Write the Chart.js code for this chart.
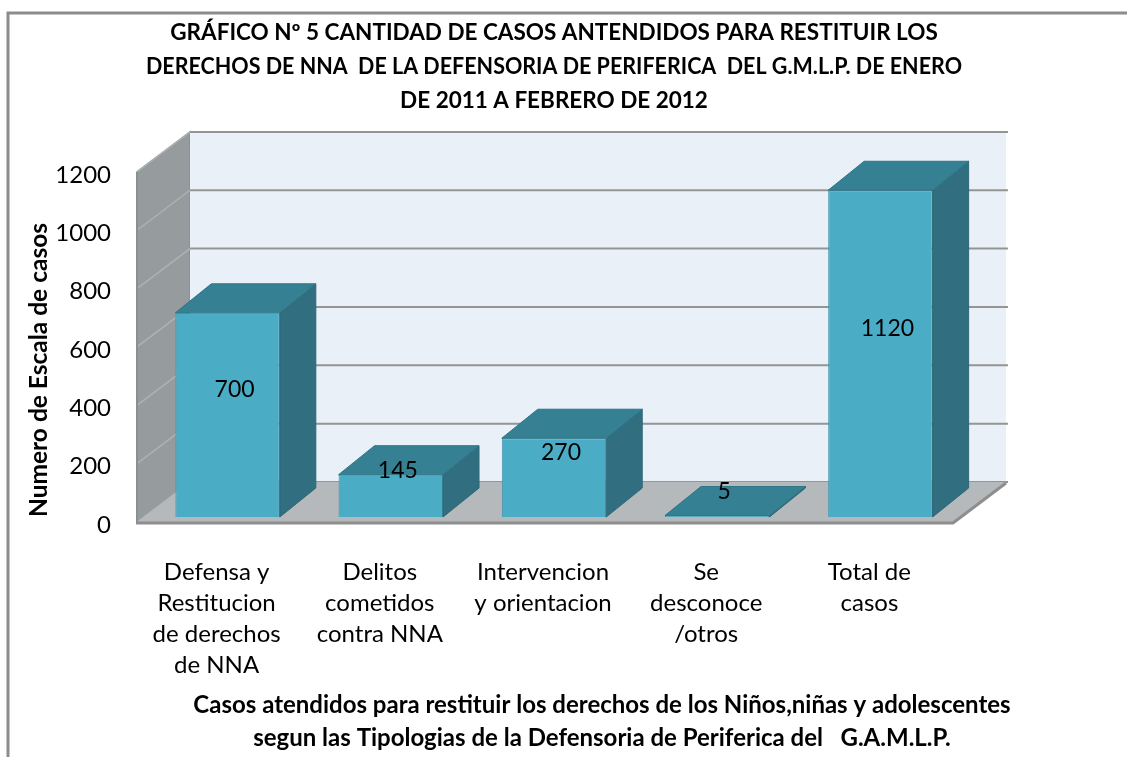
<!DOCTYPE html>
<html>
<head>
<meta charset="utf-8">
<title>Casos atendidos</title>
<script src="https://cdn.jsdelivr.net/npm/chart.js@4.4.1/dist/chart.umd.min.js"></script>
<style>
  body { margin: 0; background: #fff; }
  canvas { display: block; }
</style>
</head>
<body>
<canvas id="grafico" width="1127" height="757"></canvas>
<script>
// datos
const categorias = [
  ['Defensa y', 'Restitucion', 'de derechos', 'de NNA'],
  ['Delitos', 'cometidos', 'contra NNA'],
  ['Intervencion', 'y orientacion'],
  ['Se', 'desconoce', '/otros'],
  ['Total de', 'casos']
];
const casos = [700, 145, 270, 5, 1120];
const ejeY = { min: 0, max: 1200, paso: 200 };

const titulo = [
  'GRÁFICO Nº 5 CANTIDAD DE CASOS ANTENDIDOS PARA RESTITUIR LOS',
  'DERECHOS DE NNA  DE LA DEFENSORIA DE PERIFERICA  DEL G.M.L.P. DE ENERO',
  'DE 2011 A FEBRERO DE 2012'
];
const tituloX = [
  'Casos atendidos para restituir los derechos de los Niños,niñas y adolescentes',
  'segun las Tipologias de la Defensoria de Periferica del   G.A.M.L.P.'
];
const tituloY = 'Numero de Escala de casos';

const FUENTE = 'Lato, "Open Sans", sans-serif';

// profundidad del piso/paredes y de las barras
const frente = { x: -9, y: 5 };
const fondo = { x: 53, y: -40 };
const prof = { x: 36, y: -29 };

function poly(ctx, pts, fill, stroke, lw) {
  ctx.beginPath();
  ctx.moveTo(pts[0][0], pts[0][1]);
  for (let i = 1; i < pts.length; i++) ctx.lineTo(pts[i][0], pts[i][1]);
  ctx.closePath();
  if (fill) { ctx.fillStyle = fill; ctx.fill(); }
  if (stroke) { ctx.strokeStyle = stroke; ctx.lineWidth = lw || 1; ctx.stroke(); }
}

const marco = {
  id: 'marco',
  beforeDraw(chart) {
    const ctx = chart.ctx;
    ctx.save();
    ctx.fillStyle = '#fff';
    ctx.fillRect(0, 0, chart.width, chart.height);
    ctx.strokeStyle = '#8c8c8c';
    ctx.lineWidth = 3;
    ctx.beginPath();
    ctx.moveTo(chart.width, 13);
    ctx.lineTo(8, 13);
    ctx.lineTo(8, chart.height);
    ctx.stroke();
    ctx.restore();
  }
};

const caja3d = {
  id: 'caja3d',
  beforeDatasetsDraw(chart) {
    const { ctx, chartArea: a, scales: { y } } = chart;
    const L = a.left + frente.x, R = a.right + frente.x;
    const B = y.getPixelForValue(ejeY.min) + frente.y;
    const T = y.getPixelForValue(ejeY.max) + frente.y;
    ctx.save();
    // pared lateral
    poly(ctx, [[L, T], [L + fondo.x, T + fondo.y], [L + fondo.x, B + fondo.y], [L, B]], '#969b9e', '#8a8f92', 1.5);
    // pared del fondo
    poly(ctx, [[L + fondo.x, T + fondo.y], [R + fondo.x, T + fondo.y], [R + fondo.x, B + fondo.y], [L + fondo.x, B + fondo.y]], '#e9f0f8');
    // lineas de division
    y.ticks.forEach(t => {
      const py = y.getPixelForValue(t.value) + frente.y;
      ctx.strokeStyle = '#959595';
      ctx.lineWidth = 2;
      ctx.beginPath();
      ctx.moveTo(L + fondo.x, py + fondo.y);
      ctx.lineTo(R + fondo.x + 2, py + fondo.y);
      ctx.stroke();
      ctx.strokeStyle = '#aeb2b5';
      ctx.lineWidth = 1.5;
      ctx.beginPath();
      ctx.moveTo(L, py);
      ctx.lineTo(L + fondo.x, py + fondo.y);
      ctx.stroke();
    });
    // piso
    poly(ctx, [[L, B], [R, B], [R + fondo.x, B + fondo.y], [L + fondo.x, B + fondo.y]], '#b5b9bc');
    ctx.strokeStyle = '#8e8e8e';
    ctx.lineWidth = 3;
    ctx.beginPath();
    ctx.moveTo(L - 1, B + 1);
    ctx.lineTo(R, B + 1);
    ctx.lineTo(R + fondo.x, B + fondo.y + 1);
    ctx.stroke();
    ctx.strokeStyle = '#8a8f92';
    ctx.lineWidth = 2;
    ctx.beginPath();
    ctx.moveTo(L, B);
    ctx.lineTo(L, T);
    ctx.stroke();
    ctx.restore();
  },
  afterDatasetsDraw(chart) {
    const { ctx } = chart;
    const meta = chart.getDatasetMeta(0);
    ctx.save();
    meta.data.forEach((bar, i) => {
      const { x, y, base, width } = bar.getProps(['x', 'y', 'base', 'width'], true);
      const l = x - width / 2, r = x + width / 2;
      poly(ctx, [[r, y], [r + prof.x, y + prof.y], [r + prof.x, base + prof.y], [r, base]], '#316e7f', '#2d6878', 1);
      poly(ctx, [[l, y], [l + prof.x, y + prof.y], [r + prof.x, y + prof.y], [r, y]], '#368094', '#2f7588', 1);
      ctx.fillStyle = '#000';
      ctx.font = '23px ' + FUENTE;
      ctx.textAlign = 'center';
      ctx.textBaseline = 'middle';
      ctx.fillText(String(casos[i]), x + 7, (y + base) / 2 - 25);
    });
    ctx.restore();
  },
  afterDraw(chart) {
    const { ctx, scales: { x } } = chart;
    ctx.save();
    ctx.fillStyle = '#000';
    ctx.font = 'bold 24px ' + FUENTE;
    ctx.textAlign = 'center';
    ctx.textBaseline = 'middle';
    tituloX.forEach((t, i) => ctx.fillText(t, 602, x.bottom - 19 - (tituloX.length - 1 - i) * 33));
    ctx.restore();
  }
};

new Chart(document.getElementById('grafico'), {
  type: 'bar',
  data: {
    labels: categorias,
    datasets: [{
      data: casos,
      backgroundColor: '#4bacc6',
      borderColor: '#3f93aa',
      borderWidth: 1,
      barPercentage: 0.64,
      categoryPercentage: 1
    }]
  },
  options: {
    responsive: false,
    animation: false,
    layout: { padding: { left: 0, right: 165, top: 0, bottom: 0 } },
    plugins: {
      legend: { display: false },
      tooltip: { enabled: false },
      title: {
        display: true,
        text: titulo,
        fullSize: false,
        color: '#000',
        font: { family: FUENTE, size: 22.5, weight: 'bold', lineHeight: 1.51 },
        padding: { top: 16, bottom: 49 }
      }
    },
    scales: {
      x: {
        grid: { display: false },
        border: { display: false },
        ticks: {
          color: '#000',
          font: { family: FUENTE, size: 24, lineHeight: 1.29 },
          padding: 32,
          labelOffset: -11,
          maxRotation: 0,
          autoSkip: false
        },
        afterFit: s => { s.height = 240; }
      },
      y: {
        min: ejeY.min,
        max: ejeY.max,
        grid: { display: false },
        border: { display: false },
        ticks: {
          stepSize: ejeY.paso,
          color: '#000',
          font: { family: FUENTE, size: 24 },
          padding: 27,
          labelOffset: 8,
          callback: v => String(v)
        },
        title: {
          display: true,
          text: tituloY,
          align: 'start',
          color: '#000',
          font: { family: FUENTE, size: 24.5, weight: 'bold', lineHeight: 1.2 },
          padding: { top: 24, bottom: 0 }
        },
        afterFit: s => { s.width = 146; }
      }
    }
  },
  plugins: [marco, caja3d]
});
</script>
</body>
</html>
